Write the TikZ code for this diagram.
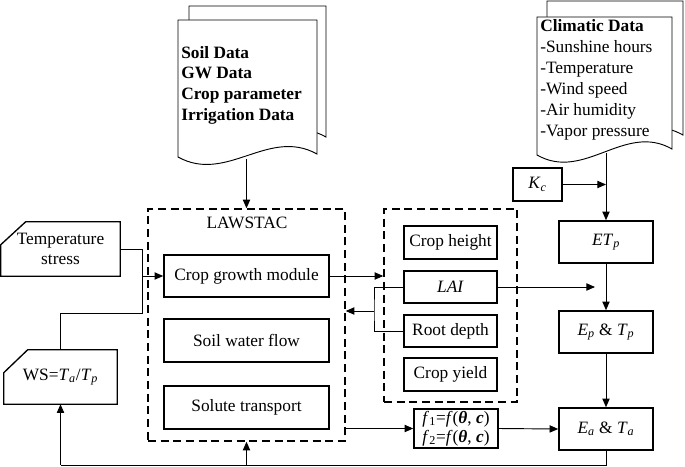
\documentclass[tikz,border=0pt]{standalone}
\usepackage{fontspec}
\setmainfont{Liberation Serif}
\usetikzlibrary{arrows.meta}
\newcommand\docshape[5]{%
  \filldraw[docline] (#1,#2) -- (#3,#2) -- (#3,#5)
    .. controls ({#3-0.35*(#3-#1)},{#5-27}) and ({#1+0.35*(#3-#1)},{#4+27}) .. (#1,#4) -- cycle;}
\tikzset{
  box/.style={draw, line width=1.2pt, inner sep=0pt, align=center},
  dbox/.style={draw, line width=1.1pt, dash pattern=on 6pt off 3.5pt, inner sep=0pt},
  conn/.style={line width=0.7pt},
  arr/.style={conn, -{Triangle[length=6.5pt,width=5.5pt]}},
  docline/.style={line width=0.7pt, fill=white},
  cutbox/.style={line width=1pt},
  plain/.style={inner sep=0pt, align=center},
}
\begin{document}
\begin{tikzpicture}[x=0.75pt,y=-0.75pt,font=\fontsize{13}{15.5}\selectfont]
\useasboundingbox (0,0) rectangle (685,467);

% documents
\docshape{189}{6}{326}{140}{137}
\docshape{178}{20}{317}{157}{154}
\node[plain, align=left, anchor=west, font=\fontsize{13}{15.5}\selectfont\bfseries] (soil) at (181,85)
  {Soil Data\\GW Data\\Crop parameter\\Irrigation Data};
\coordinate (soilb) at (246.5,159);

\docshape{547}{1}{683}{138}{135}
\docshape{537}{17}{672}{155}{149}
\node[plain, align=left, anchor=west, font=\fontsize{13}{15.8}\selectfont] (clim) at (540,80)
  {\textbf{Climatic Data}\\-Sunshine hours\\-Temperature\\-Wind speed\\-Air humidity\\-Vapor pressure};
\coordinate (climb) at (606,153);

% LAWSTAC
\node[dbox, minimum width=197*.75pt, minimum height=232*.75pt] (law) at (246.5,325) {};
\node[plain] (lawlbl) at (247,223) {LAWSTAC};
\node[box, minimum width=165*.75pt, minimum height=42*.75pt] (cgm) at (246.5,276) {Crop growth module};
\node[box, minimum width=165*.75pt, minimum height=43*.75pt] (swf) at (246.5,340.5) {Soil water flow};
\node[box, minimum width=165*.75pt, minimum height=43*.75pt] (sol) at (246.5,407.5) {Solute transport};

% crop outputs
\node[dbox, minimum width=133*.75pt, minimum height=193*.75pt] (rbox) at (450.5,305.5) {};
\node[box, minimum width=93*.75pt, minimum height=33*.75pt] (ch) at (450.5,242.5) {Crop height};
\node[box, minimum width=93*.75pt, minimum height=32*.75pt] (lai) at (450.5,287) {\textit{LAI}};
\node[box, minimum width=93*.75pt, minimum height=32*.75pt] (rd) at (450.5,331) {Root depth};
\node[box, minimum width=93*.75pt, minimum height=33*.75pt] (cy) at (450.5,374.5) {Crop yield};
\node[box, minimum width=84*.75pt, minimum height=39*.75pt, font=\fontsize{13}{14.5}\selectfont] (f) at (456,428.5)
  {\textit{f}\textsubscript{1}=\textit{f}(\textbf{\textit{θ}}, \textbf{\textit{c}})\\\textit{f}\textsubscript{2}=\textit{f}(\textbf{\textit{θ}}, \textbf{\textit{c}})};

% right column
\node[box, minimum width=49*.75pt, minimum height=33*.75pt] (kc) at (537.5,184.5) {\textit{K}\textsubscript{\textit{c}}};
\node[box, minimum width=94*.75pt, minimum height=42*.75pt] (etp) at (606,242) {\textit{ET}\textsubscript{\textit{p}}};
\node[box, minimum width=94*.75pt, minimum height=42*.75pt] (eptp) at (606,332) {\textit{E}\textsubscript{\textit{p}} \& \textit{T}\textsubscript{\textit{p}}};
\node[box, minimum width=94*.75pt, minimum height=42*.75pt] (eata) at (606,429) {\textit{E}\textsubscript{\textit{a}} \& \textit{T}\textsubscript{\textit{a}}};

% stress boxes
\node[plain, minimum width=119*.75pt, minimum height=54*.75pt] (ts) at (60.5,249) {Temperature\\stress};
\draw[cutbox] ([xshift=25*.75pt]ts.north west) -- (ts.north east) -- (ts.south east) -- (ts.south west)
  -- ([yshift=-23*.75pt]ts.north west) -- cycle;
\node[plain, minimum width=113*.75pt, minimum height=54*.75pt] (ws) at (60.5,377)
  {WS=\textit{T}\textsubscript{\textit{a}}/\textit{T}\textsubscript{\textit{p}}};
\draw[cutbox] ([xshift=24*.75pt]ws.north west) -- (ws.north east) -- (ws.south east) -- (ws.south west)
  -- ([yshift=-23*.75pt]ws.north west) -- cycle;

% connectors
\coordinate (jx) at (142,276);
\coordinate (wsj) at (142,313);
\draw[conn] (ts.east) -| (jx);
\draw[conn] (ws.north) |- (wsj) -- (jx);
\draw[arr] (jx) -- (cgm.west);

\coordinate (bR) at (606,465);
\coordinate (bL) at (60.5,465);
\coordinate (bM) at (246.5,465);
\draw[conn] (eata.south) -- (bR) -- (bL);
\draw[arr] (bL) -- (ws.south);
\draw[arr] (bM) -- (law.south);

\draw[arr] (soilb) -- (law.north);
\draw[arr] (cgm.east) -- (cgm.east -| rbox.west);

\coordinate (lj) at (374,311);
\draw[conn] (lai.west) -| (lj) |- (rd.west);
\draw[arr] (lj) -- (lj -| law.east);

\coordinate (laie) at (595,287);
\draw[arr] (lai.east) -- (laie);

\draw[arr] (law.east |- f.west) -- (f.west);
\draw[arr] (f.east) -- (eata.west);

\draw[arr] (climb) -- (etp.north);
\coordinate (kcj) at (606,184.5);
\draw[arr] (kc.east) -- (kcj);
\draw[arr] (etp.south) -- (eptp.north);
\draw[arr] (eptp.south) -- (eata.north);
\end{tikzpicture}
\end{document}
